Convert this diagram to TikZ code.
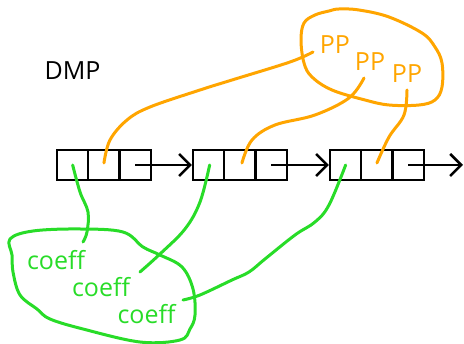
\documentclass[tikz,border=0pt]{standalone}
\usepackage{fontspec}
\setmainfont{Open Sans}
\usetikzlibrary{arrows.meta}
\definecolor{ppcol}{RGB}{255,165,0}
\definecolor{cfcol}{RGB}{40,220,40}
\tikzset{
  cell/.style={draw=black, line width=2.3pt, minimum width=31.3pt, minimum height=30pt, inner sep=0pt},
  nextptr/.style={draw=black, line width=2.3pt, -{Straight Barb[length=11pt,width=22pt,line width=2.5pt]}},
  lbl/.style={inner sep=0pt, font=\fontsize{25}{25}\selectfont},
  pplbl/.style={lbl, text=ppcol},
  cflbl/.style={lbl, text=cfcol},
  ppline/.style={draw=ppcol, line width=3pt, line cap=round, line join=round},
  cfline/.style={draw=cfcol, line width=3pt, line cap=round, line join=round},
}
\begin{document}
\begin{tikzpicture}[x=1pt, y=-1pt]
\useasboundingbox (0,0) rectangle (464,344);

% title
\node[lbl] (title) at (72.5,71) {DMP};

% list elements: three cells each
\foreach \n/\x in {a/57, b/193, c/330} {
  \node[cell] (\n1) at (\x+15.65,165) {};
  \node[cell] (\n2) at (\x+46.95,165) {};
  \node[cell] (\n3) at (\x+78.25,165) {};
}
\coordinate (tail) at (463,165);
\draw[nextptr] (a3.center) -- (b1.west);
\draw[nextptr] (b3.center) -- (c1.west);
\draw[nextptr] (c3.center) -- (tail);

% shared PP objects
\node[pplbl] (pp1) at (335,45) {PP};
\node[pplbl] (pp2) at (370,61.5) {PP};
\node[pplbl] (pp3) at (407,73.5) {PP};
\draw[ppline] plot[smooth cycle, tension=0.6] coordinates {
  (339,9) (359,10) (389,17) (422,33) (435,47) (442,63) (442,87) (435,100)
  (419,105) (389,105) (365,100) (332,90) (312,77) (304,63) (301,40)
  (304,23) (315,15) (329,11)};
\coordinate (pp1end) at (313,52);
\coordinate (pp2end) at (364,78);
\coordinate (pp3end) at (407,90);
\draw[ppline] plot[smooth, tension=0.6] coordinates {
  ([yshift=2pt]a2.center) (110,140) (127,120) (150,107) (200,90) (232,80) (290,62) (pp1end)};
\draw[ppline] plot[smooth, tension=0.6] coordinates {
  ([xshift=2pt,yshift=2pt]b2.center) (252,140) (275,125) (315,115) (349,98) (pp2end)};
\draw[ppline] plot[smooth, tension=0.6] coordinates {
  ([yshift=2pt]c2.center) (389,137) (404,115) (pp3end)};

% coefficient objects
\node[cflbl] (cf1) at (56,260.5) {coeff};
\node[cflbl] (cf2) at (101,287.5) {coeff};
\node[cflbl] (cf3) at (146.5,314) {coeff};
\draw[cfline] plot[smooth cycle, tension=0.6] coordinates {
  (10,239) (33,231) (80,229) (123,232) (143,247) (160,255) (182,267) (193,289)
  (195,315) (190,329) (180,340) (140,342) (83,329) (50,319) (37,309)
  (20,295) (13,272) (12,255)};
\coordinate (cf1end) at (83,242);
\coordinate (cf2end) at (140,272);
\coordinate (cf3end) at (183,300);
\draw[cfline] plot[smooth, tension=0.6] coordinates {
  (a1.center) (80,192) (88,212) (87,232) (cf1end)};
\draw[cfline] plot[smooth, tension=0.6] coordinates {
  ([xshift=1pt]b1.center) (200,202) (185,229) (160,254) (cf2end)};
\draw[cfline] plot[smooth, tension=0.6] coordinates {
  (c1.center) (329,205) (315,222) (295,235) (265,259) (249,272) (232,280) (200,295) (cf3end)};
\end{tikzpicture}
\end{document}
